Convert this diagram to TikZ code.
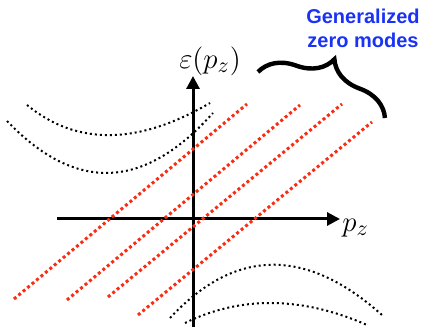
\documentclass[tikz,border=0pt]{standalone}
\usepackage{fontspec}
\newfontfamily\modefont{Liberation Sans}
\usetikzlibrary{arrows.meta,positioning,decorations.pathreplacing}
\definecolor{modeblue}{RGB}{25,50,245}
\definecolor{modered}{RGB}{250,45,20}
\tikzset{
    axisarrow/.style={line width=1.5pt, -{Triangle[length=6.5pt,width=6.5pt]}},
    modeline/.style={draw=modered, line width=1.5pt, dash pattern=on 1.5pt off 1.4pt},
    bandcurve/.style={draw=black, line width=1pt, dash pattern=on 1pt off 1.5pt},
    bracemark/.style={line width=2.2pt, decorate, decoration={brace, amplitude=19pt, aspect=0.5}},
    modetext/.style={font=\modefont\bfseries, text=modeblue, align=center, inner sep=0pt},
    axislabel/.style={font=\fontsize{15.5}{18}\selectfont, inner sep=0pt}
}

\begin{document}
\begin{tikzpicture}[x=0.5pt, y=-0.5pt]

\useasboundingbox (0,0) rectangle (423,335);

% Axes
\coordinate (xl) at (57,219);
\coordinate (xr) at (340,219);
\coordinate (yb) at (193,327);
\coordinate (yt) at (193,76);
\draw[axisarrow] (xl) -- (xr);
\draw[axisarrow] (yb) -- (yt);

% Axis labels
\node[axislabel] (elabel) at (210,61) {$\varepsilon(p_z)$};
\node[axislabel, anchor=west] (plabel) at (342,228) {$p_z$};

% Upper bands
\coordinate (a1) at (27,105);
\coordinate (a2) at (210,103);
\coordinate (b1) at (7,121);
\coordinate (b2) at (213,113);
\draw[bandcurve] (a1) .. controls (77,146) and (138,145) .. (a2);
\draw[bandcurve] (b1) .. controls (76,193) and (144,190) .. (b2);

% Lower bands
\coordinate (c1) at (170,318);
\coordinate (c2) at (382,315);
\coordinate (d1) at (185,323);
\coordinate (d2) at (367,325);
\draw[bandcurve] (c1) .. controls (235,248) and (306,247) .. (c2);
\draw[bandcurve] (d1) .. controls (240,296) and (301,296) .. (d2);

% Zero modes
\coordinate (m1s) at (14,299);
\coordinate (m1e) at (247,104);
\coordinate (m2s) at (67,300);
\coordinate (m2e) at (300,105);
\coordinate (m3s) at (108,297);
\coordinate (m3e) at (342,104);
\coordinate (m4s) at (138,315);
\coordinate (m4e) at (372,122);
\draw[modeline] (m1s) -- (m1e);
\draw[modeline] (m2s) -- (m2e);
\draw[modeline] (m3s) -- (m3e);
\draw[modeline] (m4s) -- (m4e);

% Brace and label
\coordinate (brl) at (258,72);
\coordinate (brr) at (385,118);
\draw[bracemark] (brl) -- (brr);
\node[modetext] (modes) at (363,28) {Generalized\\zero modes};

\end{tikzpicture}
\end{document}
